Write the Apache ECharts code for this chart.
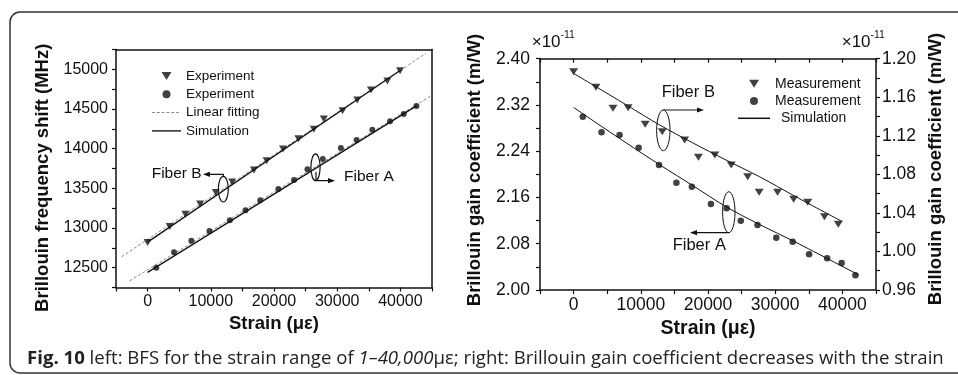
<!DOCTYPE html>
<html>
<head>
<meta charset="utf-8">
<script src="https://cdn.jsdelivr.net/npm/echarts@6.0.0/dist/echarts.min.js"></script>
<style>
  html, body { margin: 0; padding: 0; background: #fff; }
  #chart { width: 958px; height: 375px; }
</style>
</head>
<body>
<div id="chart"></div>
<script>
// left panel: Brillouin frequency shift vs strain
const bfsStrainB = [0, 3492, 5979, 8307, 10794, 13386, 16825, 18836, 21429, 23862, 26296, 27884, 30847, 33175, 35344, 37937, 39947]
const bfsValueB = [12816, 13018, 13174, 13303, 13446, 13581, 13732, 13849, 13996, 14126, 14244, 14374, 14479, 14613, 14739, 14853, 14982]
const bfsStrainA = [1376, 4180, 6931, 9788, 13016, 15503, 17831, 20688, 23175, 25291, 27725, 30582, 33069, 35556, 38360, 40529, 42540]
const bfsValueA = [12500, 12695, 12838, 12963, 13098, 13224, 13350, 13492, 13606, 13740, 13870, 14009, 14110, 14239, 14345, 14437, 14538]
const fitStrainB = [-4127, 44016]
const fitValueB = [12636, 15201]
const fitStrainA = [-2857, 44873]
const fitValueA = [12333, 14668]
const simStrainB = [0, 40000]
const simValueB = [12822, 14988]
const simStrainA = [0, 42540]
const simValueA = [12440, 14540]

// right panel: Brillouin gain coefficient (x1e-11 m/W)
const gainStrainB = [0, 3324, 5865, 8113, 10655, 13196, 16520, 18573, 21017, 23460, 25904, 27615, 30352, 32747, 34848, 37337, 39389]
const gainValueB = [1.1865, 1.1703, 1.1485, 1.1492, 1.1319, 1.1243, 1.1156, 1.0977, 1.1001, 1.0897, 1.0776, 1.0614, 1.0614, 1.0541, 1.0510, 1.0361, 1.0282]
const gainStrainA = [1369, 4154, 6842, 9677, 12708, 15298, 17595, 20432, 22776, 24877, 27366, 30156, 32600, 35044, 37732, 39883, 41935]
const gainValueA = [2.2997, 2.2727, 2.2680, 2.2461, 2.2162, 2.1856, 2.1786, 2.1487, 2.1413, 2.1198, 2.1124, 2.0904, 2.0835, 2.0617, 2.0548, 2.0467, 2.0254]
const gainSimStrainB = [0, 2933, 7881, 12815, 17748, 22696, 27630, 33067, 39970]
const gainSimValueB = [1.1847, 1.1726, 1.1519, 1.1312, 1.1126, 1.0948, 1.0777, 1.0568, 1.0310]
const gainSimStrainA = [0, 2933, 7881, 12815, 17748, 22696, 27630, 33067, 42444]
const gainSimValueA = [2.3157, 2.2925, 2.2540, 2.2165, 2.1805, 2.1439, 2.1135, 2.0825, 2.0259]

const zip = (xs, ys) => xs.map((x, i) => [x, ys[i]])

const ink = '#111'
const grey = '#8a8a8a'
const triDown = 'path://M0,0L10,0L5,8Z'
const solidIcon = 'path://M0,0H30V1.4H0Z'
const dashIcon = 'path://M0,0h3v1h-3zM5,0h3v1h-3zM10,0h3v1h-3zM15,0h3v1h-3zM20,0h3v1h-3zM25,0h3v1h-3zM30,0h0.1v1h-0.1z'
const font = 'Liberation Sans, Arial, sans-serif'
const capFont = '"Open Sans", Lato, sans-serif'

const axisLine = { onZero: false, lineStyle: { color: ink, width: 1.5 } }
const tick = { length: 4, lineStyle: { color: ink, width: 1.2 } }

const chart = echarts.init(document.getElementById('chart'), null, { renderer: 'canvas' })

const arrowHead = (tipX, tipY, dir) => ({
  type: 'polygon',
  shape: { points: [[tipX, tipY], [tipX - dir * 7, tipY - 2.6], [tipX - dir * 7, tipY + 2.6]] },
  style: { fill: ink }
})

const option = {
  backgroundColor: '#fff',
  animation: false,
  textStyle: { fontFamily: font },
  grid: [
    { left: 116, top: 49.5, width: 316, height: 238 },
    { left: 540, top: 58.7, width: 336, height: 231.3 }
  ],
  xAxis: [
    {
      gridIndex: 0, type: 'value', min: -5000, max: 45000, interval: 5000,
      axisLine, splitLine: { show: false }, axisTick: tick,
      axisLabel: { color: ink, fontSize: 16, margin: 6, formatter: v => (v % 10000 === 0 ? String(v) : '') },
      name: 'Strain (με)', nameLocation: 'middle', nameGap: 26,
      nameTextStyle: { color: ink, fontSize: 18.5, fontWeight: 'bold' }
    },
    {
      gridIndex: 1, type: 'value', min: -5000, max: 45000, interval: 5000,
      axisLine, splitLine: { show: false }, axisTick: tick,
      axisLabel: { color: ink, fontSize: 17.5, margin: 6, formatter: v => (v % 10000 === 0 ? String(v) : '') },
      name: 'Strain (με)', nameLocation: 'middle', nameGap: 23,
      nameTextStyle: { color: ink, fontSize: 19.5, fontWeight: 'bold' }
    },
    {
      gridIndex: 1, type: 'value', position: 'top', min: -5000, max: 45000, interval: 5000,
      axisLine, splitLine: { show: false },
      axisTick: { inside: true, length: 4, lineStyle: { color: ink, width: 1.2 } },
      axisLabel: { show: false }
    },
    {
      gridIndex: 0, type: 'value', position: 'top', min: -5000, max: 45000,
      axisLine, splitLine: { show: false }, axisTick: { show: false }, axisLabel: { show: false }
    }
  ],
  yAxis: [
    {
      gridIndex: 0, type: 'value', min: 12250, max: 15250, interval: 250,
      axisLine: { show: true, ...axisLine }, splitLine: { show: false }, axisTick: tick,
      axisLabel: { color: ink, fontSize: 16, margin: 8, formatter: v => (v % 500 === 0 ? String(v) : '') },
      name: 'Brillouin frequency shift (MHz)', nameLocation: 'middle', nameGap: 64, nameRotate: 90,
      nameTextStyle: { color: ink, fontSize: 18.5, fontWeight: 'bold', padding: [0, 18.5, 0, 0] }
    },
    {
      gridIndex: 1, type: 'value', min: 2.0, max: 2.4, interval: 0.04,
      axisLine: { show: true, ...axisLine }, splitLine: { show: false }, axisTick: tick,
      axisLabel: { color: ink, fontSize: 17.5, margin: 10, formatter: v => (Math.round(v * 100) % 8 === 0 ? v.toFixed(2) : '') },
      name: 'Brillouin gain coefficient (m/W)', nameLocation: 'middle', nameGap: 56, nameRotate: 90,
      nameTextStyle: { color: ink, fontSize: 18.5, fontWeight: 'bold', padding: [0, 0, 0, 8.6] }
    },
    {
      gridIndex: 1, type: 'value', position: 'right', min: 0.96, max: 1.2, interval: 0.02,
      axisLine: { show: true, ...axisLine }, splitLine: { show: false }, axisTick: tick,
      axisLabel: { color: ink, fontSize: 17.5, margin: 6, formatter: v => (Math.round(v * 100) % 4 === 0 ? v.toFixed(2) : '') },
      name: 'Brillouin gain coefficient (m/W)', nameLocation: 'middle', nameGap: 50, nameRotate: 90,
      nameTextStyle: { color: ink, fontSize: 18.5, fontWeight: 'bold', padding: [0, 0, 0, 10.6] }
    },
    {
      gridIndex: 0, type: 'value', position: 'right', min: 12250, max: 15250,
      axisLine: { show: true, ...axisLine }, splitLine: { show: false }, axisTick: { show: false }, axisLabel: { show: false }
    }
  ],
  legend: [
    {
      left: 147, top: 63, orient: 'vertical', itemWidth: 29, itemHeight: 8, itemGap: 2.3,
      selectedMode: false,
      textStyle: { color: ink, fontSize: 13.5, lineHeight: 16 },
      formatter: name => name.replace(/ [AB]$/, ''),
      data: [
        { name: 'Experiment B', icon: triDown },
        { name: 'Experiment A', icon: 'circle' },
        { name: 'Linear fitting', icon: dashIcon },
        { name: 'Simulation', icon: solidIcon }
      ]
    },
    {
      left: 733, top: 70.7, orient: 'vertical', itemWidth: 32, itemHeight: 8, itemGap: 1.3,
      selectedMode: false,
      textStyle: { color: ink, fontSize: 14, lineHeight: 16 },
      formatter: name => name.replace(/ [AB]$/, '').trim(),
      data: [
        { name: 'Measurement B', icon: triDown },
        { name: 'Measurement A', icon: 'circle' },
        { name: 'Simulation ', icon: solidIcon, textStyle: { padding: [0, 0, 0, 6] } }
      ]
    }
  ],
  series: [
    {
      name: 'Linear fitting', type: 'line', xAxisIndex: 0, yAxisIndex: 0, data: zip(fitStrainB, fitValueB),
      symbol: 'none', color: grey, lineStyle: { color: grey, width: 1, type: [3, 2] }, z: 1
    },
    {
      name: 'Linear fitting', type: 'line', xAxisIndex: 0, yAxisIndex: 0, data: zip(fitStrainA, fitValueA),
      symbol: 'none', color: grey, lineStyle: { color: grey, width: 1, type: [3, 2] }, z: 1
    },
    {
      name: 'Simulation', type: 'line', xAxisIndex: 0, yAxisIndex: 0, data: zip(simStrainB, simValueB),
      symbol: 'none', color: ink, lineStyle: { color: ink, width: 1.3 }, z: 2
    },
    {
      name: 'Simulation', type: 'line', xAxisIndex: 0, yAxisIndex: 0, data: zip(simStrainA, simValueA),
      symbol: 'none', color: ink, lineStyle: { color: ink, width: 1.3 }, z: 2
    },
    {
      name: 'Experiment B', type: 'scatter', xAxisIndex: 0, yAxisIndex: 0, data: zip(bfsStrainB, bfsValueB),
      symbol: triDown, symbolSize: [8, 7], color: ink, z: 3
    },
    {
      name: 'Experiment A', type: 'scatter', xAxisIndex: 0, yAxisIndex: 0, data: zip(bfsStrainA, bfsValueA),
      symbol: 'circle', symbolSize: 6, color: ink, z: 3
    },
    {
      name: 'Simulation ', type: 'line', xAxisIndex: 1, yAxisIndex: 2, data: zip(gainSimStrainB, gainSimValueB),
      symbol: 'none', smooth: 0.3, color: ink, lineStyle: { color: ink, width: 1 }, z: 2
    },
    {
      name: 'Simulation ', type: 'line', xAxisIndex: 1, yAxisIndex: 1, data: zip(gainSimStrainA, gainSimValueA),
      symbol: 'none', smooth: 0.3, color: ink, lineStyle: { color: ink, width: 1 }, z: 2
    },
    {
      name: 'Measurement B', type: 'scatter', xAxisIndex: 1, yAxisIndex: 2, data: zip(gainStrainB, gainValueB),
      symbol: triDown, symbolSize: [9, 7], color: ink, z: 3
    },
    {
      name: 'Measurement A', type: 'scatter', xAxisIndex: 1, yAxisIndex: 1, data: zip(gainStrainA, gainValueA),
      symbol: 'circle', symbolSize: 6.5, color: ink, z: 3
    }
  ],
  graphic: [
    // frame
    { type: 'rect', shape: { x: 10, y: 12, width: 1000, height: 361, r: 10 }, style: { fill: 'none', stroke: '#333', lineWidth: 1.5 }, z: 0 },

    // left panel annotations
    { type: 'text', x: 151.7, y: 173.5, style: { text: 'Fiber B', fill: ink, font: '15.5px ' + font, verticalAlign: 'middle' } },
    { type: 'ellipse', shape: { cx: 223.3, cy: 189.2, rx: 5, ry: 12.8 }, style: { fill: 'none', stroke: ink, lineWidth: 1.2 } },
    { type: 'polyline', shape: { points: [[223.3, 176.4], [223.3, 174.3], [208, 174.3]] }, style: { stroke: ink, lineWidth: 1.2, fill: 'none' } },
    arrowHead(203, 174.3, -1),
    { type: 'text', x: 344, y: 176.5, style: { text: 'Fiber A', fill: ink, font: '15.5px ' + font, verticalAlign: 'middle' } },
    { type: 'ellipse', shape: { cx: 315.5, cy: 167.3, rx: 4.6, ry: 13.4 }, style: { fill: 'none', stroke: ink, lineWidth: 1.2 } },
    { type: 'polyline', shape: { points: [[316, 172], [316, 180.7], [330, 180.7]] }, style: { stroke: ink, lineWidth: 1.2, fill: 'none' } },
    arrowHead(335, 180.7, 1),

    // right panel annotations
    { type: 'text', x: 661.7, y: 92.3, style: { text: 'Fiber B', fill: ink, font: '16.5px ' + font, verticalAlign: 'middle' } },
    { type: 'ellipse', shape: { cx: 663.3, cy: 130.3, rx: 6.7, ry: 20.3 }, style: { fill: 'none', stroke: ink, lineWidth: 1 } },
    { type: 'polyline', shape: { points: [[663.3, 110], [699, 110]] }, style: { stroke: ink, lineWidth: 1.2, fill: 'none' } },
    arrowHead(704, 110, 1),
    { type: 'text', x: 672.7, y: 245.7, style: { text: 'Fiber A', fill: ink, font: '16.5px ' + font, verticalAlign: 'middle' } },
    { type: 'ellipse', shape: { cx: 728.8, cy: 212.2, rx: 6.2, ry: 20.5 }, style: { fill: 'none', stroke: ink, lineWidth: 1 } },
    { type: 'polyline', shape: { points: [[728.8, 232.7], [695, 232.7]] }, style: { stroke: ink, lineWidth: 1.2, fill: 'none' } },
    arrowHead(690, 232.7, -1),

    // exponent markers
    { type: 'text', x: 531.7, y: 42, style: { text: '×10', fill: ink, font: '17px ' + font, verticalAlign: 'middle' } },
    { type: 'text', x: 560.5, y: 35, style: { text: '-11', fill: ink, font: '10.5px ' + font, verticalAlign: 'middle' } },
    { type: 'text', x: 841.7, y: 42, style: { text: '×10', fill: ink, font: '17px ' + font, verticalAlign: 'middle' } },
    { type: 'text', x: 870.5, y: 35, style: { text: '-11', fill: ink, font: '10.5px ' + font, verticalAlign: 'middle' } },

    // caption
    {
      type: 'text', x: 27, y: 359,
      style: {
        text: '{b|Fig. 10} left: BFS for the strain range of {i|1–40,000}με; right: Brillouin gain coefficient decreases with the strain',
        fill: '#222', font: '18.6px ' + capFont, verticalAlign: 'middle',
        rich: {
          b: { fontWeight: 'bold', fontSize: 18.6, fontFamily: capFont, fill: '#222' },
          i: { fontStyle: 'italic', fontSize: 18.6, fontFamily: capFont, fill: '#222' }
        }
      }
    }
  ]
}

chart.setOption(option)
</script>
</body>
</html>
